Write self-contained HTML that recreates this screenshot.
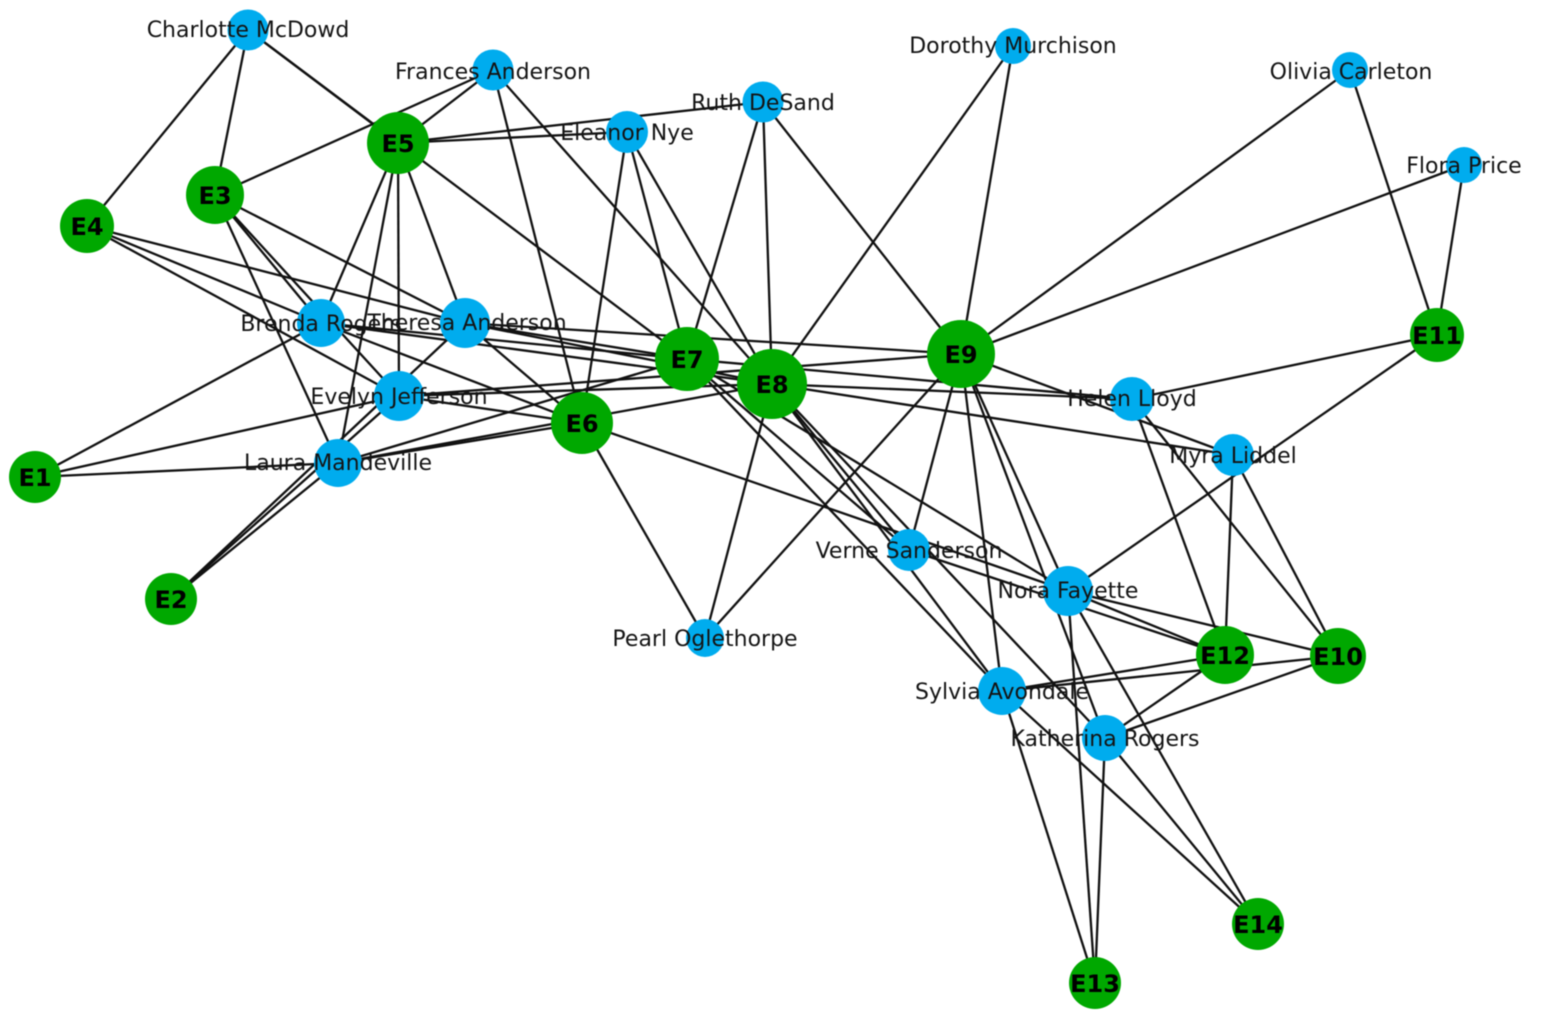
<!DOCTYPE html>
<html><head><meta charset="utf-8"><style>
html,body{margin:0;padding:0;background:#fff;width:1564px;height:1026px;overflow:hidden}
svg{display:block;filter:blur(0.45px)}
.l line{stroke:#111;stroke-width:2.3}
.b circle{fill:#00acee}
.g circle{fill:#00a800}
text{font-family:"DejaVu Sans",sans-serif;text-anchor:middle}
.t text{font-size:22px;fill:#141414}
.e text{font-size:24px;font-weight:bold;fill:#000}
</style></head><body>
<svg width="1564" height="1026" viewBox="0 0 1564 1026" xmlns="http://www.w3.org/2000/svg">
<g class="l">
<line x1="399" y1="396" x2="35" y2="477"/><line x1="399" y1="396" x2="171" y2="599"/><line x1="399" y1="396" x2="215" y2="195"/><line x1="399" y1="396" x2="87" y2="226"/><line x1="399" y1="396" x2="398" y2="143"/><line x1="399" y1="396" x2="582" y2="423"/><line x1="399" y1="396" x2="772" y2="384"/><line x1="399" y1="396" x2="961" y2="354"/>
<line x1="338" y1="463" x2="35" y2="477"/><line x1="338" y1="463" x2="171" y2="599"/><line x1="338" y1="463" x2="215" y2="195"/><line x1="338" y1="463" x2="398" y2="143"/><line x1="338" y1="463" x2="582" y2="423"/><line x1="338" y1="463" x2="687" y2="359"/><line x1="338" y1="463" x2="772" y2="384"/>
<line x1="465" y1="323" x2="171" y2="599"/><line x1="465" y1="323" x2="215" y2="195"/><line x1="465" y1="323" x2="87" y2="226"/><line x1="465" y1="323" x2="398" y2="143"/><line x1="465" y1="323" x2="582" y2="423"/><line x1="465" y1="323" x2="687" y2="359"/><line x1="465" y1="323" x2="772" y2="384"/><line x1="465" y1="323" x2="961" y2="354"/>
<line x1="321" y1="323" x2="35" y2="477"/><line x1="321" y1="323" x2="215" y2="195"/><line x1="321" y1="323" x2="87" y2="226"/><line x1="321" y1="323" x2="398" y2="143"/><line x1="321" y1="323" x2="582" y2="423"/><line x1="321" y1="323" x2="687" y2="359"/><line x1="321" y1="323" x2="772" y2="384"/>
<line x1="248" y1="30" x2="215" y2="195"/><line x1="248" y1="30" x2="87" y2="226"/><line x1="248" y1="30" x2="398" y2="143"/><line x1="248" y1="30" x2="687" y2="359"/>
<line x1="493" y1="70" x2="215" y2="195"/><line x1="493" y1="70" x2="398" y2="143"/><line x1="493" y1="70" x2="582" y2="423"/><line x1="493" y1="70" x2="772" y2="384"/>
<line x1="627" y1="132" x2="398" y2="143"/><line x1="627" y1="132" x2="582" y2="423"/><line x1="627" y1="132" x2="687" y2="359"/><line x1="627" y1="132" x2="772" y2="384"/>
<line x1="705" y1="638" x2="582" y2="423"/><line x1="705" y1="638" x2="772" y2="384"/><line x1="705" y1="638" x2="961" y2="354"/>
<line x1="763" y1="102" x2="398" y2="143"/><line x1="763" y1="102" x2="687" y2="359"/><line x1="763" y1="102" x2="772" y2="384"/><line x1="763" y1="102" x2="961" y2="354"/>
<line x1="909" y1="550" x2="687" y2="359"/><line x1="909" y1="550" x2="772" y2="384"/><line x1="909" y1="550" x2="961" y2="354"/><line x1="909" y1="550" x2="1225" y2="655"/>
<line x1="1233" y1="455" x2="772" y2="384"/><line x1="1233" y1="455" x2="961" y2="354"/><line x1="1233" y1="455" x2="1338" y2="656"/><line x1="1233" y1="455" x2="1225" y2="655"/>
<line x1="1105" y1="738" x2="772" y2="384"/><line x1="1105" y1="738" x2="961" y2="354"/><line x1="1105" y1="738" x2="1338" y2="656"/><line x1="1105" y1="738" x2="1225" y2="655"/><line x1="1105" y1="738" x2="1095" y2="983"/><line x1="1105" y1="738" x2="1258" y2="924"/>
<line x1="1002" y1="691" x2="687" y2="359"/><line x1="1002" y1="691" x2="772" y2="384"/><line x1="1002" y1="691" x2="961" y2="354"/><line x1="1002" y1="691" x2="1338" y2="656"/><line x1="1002" y1="691" x2="1225" y2="655"/><line x1="1002" y1="691" x2="1095" y2="983"/><line x1="1002" y1="691" x2="1258" y2="924"/>
<line x1="1068" y1="591" x2="582" y2="423"/><line x1="1068" y1="591" x2="687" y2="359"/><line x1="1068" y1="591" x2="961" y2="354"/><line x1="1068" y1="591" x2="1338" y2="656"/><line x1="1068" y1="591" x2="1437" y2="335"/><line x1="1068" y1="591" x2="1225" y2="655"/><line x1="1068" y1="591" x2="1095" y2="983"/><line x1="1068" y1="591" x2="1258" y2="924"/>
<line x1="1132" y1="399" x2="687" y2="359"/><line x1="1132" y1="399" x2="772" y2="384"/><line x1="1132" y1="399" x2="1338" y2="656"/><line x1="1132" y1="399" x2="1437" y2="335"/><line x1="1132" y1="399" x2="1225" y2="655"/>
<line x1="1013" y1="46" x2="772" y2="384"/><line x1="1013" y1="46" x2="961" y2="354"/>
<line x1="1350" y1="70" x2="961" y2="354"/><line x1="1350" y1="70" x2="1437" y2="335"/>
<line x1="1464" y1="165" x2="961" y2="354"/><line x1="1464" y1="165" x2="1437" y2="335"/>
</g>
<g class="b">
<circle cx="248" cy="30" r="20.5"/><circle cx="493" cy="70" r="20.5"/><circle cx="627" cy="132" r="21"/><circle cx="763" cy="102" r="20.5"/><circle cx="1013" cy="46" r="18"/><circle cx="1350" cy="70" r="18"/><circle cx="1464" cy="165" r="18"/><circle cx="321" cy="323" r="24"/><circle cx="465" cy="323" r="25"/><circle cx="399" cy="396" r="25"/><circle cx="338" cy="463" r="24"/><circle cx="909" cy="550" r="21"/><circle cx="1068" cy="591" r="25"/><circle cx="1002" cy="691" r="24"/><circle cx="1105" cy="738" r="23"/><circle cx="1132" cy="399" r="22"/><circle cx="1233" cy="455" r="21"/><circle cx="705" cy="638" r="19"/>
</g>
<g class="g">
<circle cx="35" cy="477" r="26"/><circle cx="171" cy="599" r="26"/><circle cx="215" cy="195" r="29"/><circle cx="87" cy="226" r="27"/><circle cx="398" cy="143" r="31"/><circle cx="582" cy="423" r="31"/><circle cx="687" cy="359" r="32"/><circle cx="772" cy="384" r="35"/><circle cx="961" cy="354" r="34"/><circle cx="1338" cy="656" r="28"/><circle cx="1437" cy="335" r="27"/><circle cx="1225" cy="655" r="29"/><circle cx="1095" cy="983" r="26"/><circle cx="1258" cy="924" r="26"/>
</g>
<g class="t">
<text x="248" y="37">Charlotte McDowd</text><text x="493" y="79">Frances Anderson</text><text x="627" y="140">Eleanor Nye</text><text x="763" y="110">Ruth DeSand</text><text x="1013" y="53">Dorothy Murchison</text><text x="1351" y="79">Olivia Carleton</text><text x="1464" y="173">Flora Price</text><text x="321" y="331">Brenda Rogers</text><text x="467" y="330">Theresa Anderson</text><text x="399" y="404">Evelyn Jefferson</text><text x="338" y="470">Laura Mandeville</text><text x="909" y="558">Verne Sanderson</text><text x="1068" y="598">Nora Fayette</text><text x="1002" y="699">Sylvia Avondale</text><text x="1105" y="746">Katherina Rogers</text><text x="1132" y="406">Helen Lloyd</text><text x="1233" y="463">Myra Liddel</text><text x="705" y="646">Pearl Oglethorpe</text>
</g>
<g class="e">
<text x="35" y="486">E1</text><text x="171" y="608">E2</text><text x="215" y="204">E3</text><text x="87" y="235">E4</text><text x="398" y="152">E5</text><text x="582" y="432">E6</text><text x="687" y="368">E7</text><text x="772" y="393">E8</text><text x="961" y="363">E9</text><text x="1338" y="665">E10</text><text x="1437" y="344">E11</text><text x="1225" y="664">E12</text><text x="1095" y="992">E13</text><text x="1258" y="933">E14</text>
</g>
</svg>
</body></html>
